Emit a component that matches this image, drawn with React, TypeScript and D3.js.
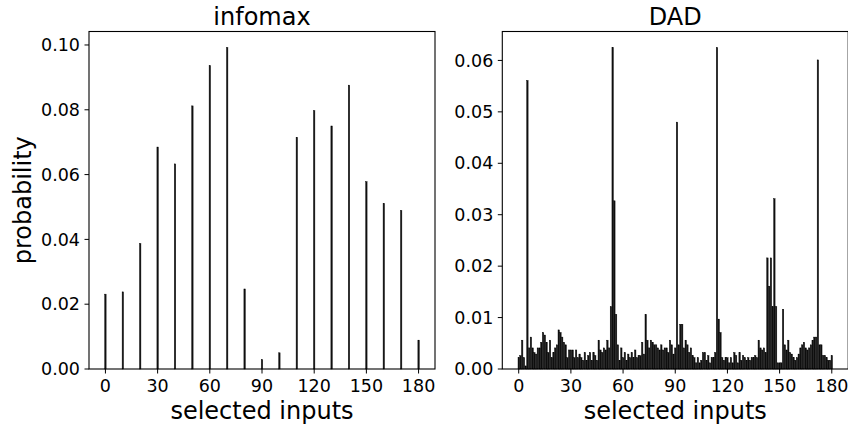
import React from 'react';
import * as d3 from 'd3';

// infomax: inputs picked every 10 steps
const infomaxInputs = [0, 10, 20, 30, 40, 50, 60, 70, 80, 90, 100, 110, 120, 130, 140, 150, 160, 170, 180];
const infomaxProb = [
  0.0231, 0.0238, 0.0387, 0.0685, 0.0633, 0.0812, 0.0936, 0.0992, 0.0247, 0.0029,
  0.0050, 0.0715, 0.0797, 0.0750, 0.0876, 0.0578, 0.0511, 0.0489, 0.0089,
];

// DAD: one value per input 0..180
const dadProb = [
  0.0022, 0.0026, 0.0056, 0.0022, 0.0006, 0.0561, 0.0041, 0.0062, 0.0041, 0.0032,
  0.0029, 0.0041, 0.0041, 0.0052, 0.0071, 0.0066, 0.0052, 0.0032, 0.0056, 0.0022,
  0.0032, 0.0041, 0.0047, 0.0076, 0.0071, 0.0062, 0.0052, 0.0047, 0.0022, 0.0037,
  0.0037, 0.0037, 0.0022, 0.0037, 0.0022, 0.0029, 0.0022, 0.0017, 0.0032, 0.0017,
  0.0026, 0.0032, 0.0017, 0.0032, 0.0026, 0.0017, 0.0056, 0.0037, 0.0032, 0.0041,
  0.0037, 0.0056, 0.0041, 0.0121, 0.0625, 0.0327, 0.0106, 0.0047, 0.0017, 0.0041,
  0.0022, 0.0032, 0.0017, 0.0029, 0.0022, 0.0032, 0.0022, 0.0037, 0.0022, 0.0026,
  0.0026, 0.0052, 0.0029, 0.0106, 0.0056, 0.0041, 0.0056, 0.0052, 0.0047, 0.0047,
  0.0041, 0.0037, 0.0047, 0.0037, 0.0041, 0.0041, 0.0032, 0.0056, 0.0047, 0.0029,
  0.0041, 0.0480, 0.0047, 0.0087, 0.0087, 0.0041, 0.0056, 0.0047, 0.0032, 0.0041,
  0.0026, 0.0022, 0.0012, 0.0022, 0.0012, 0.0017, 0.0032, 0.0032, 0.0017, 0.0026,
  0.0012, 0.0022, 0.0022, 0.0032, 0.0625, 0.0097, 0.0071, 0.0022, 0.0017, 0.0022,
  0.0022, 0.0012, 0.0022, 0.0012, 0.0032, 0.0026, 0.0012, 0.0032, 0.0017, 0.0026,
  0.0022, 0.0017, 0.0022, 0.0017, 0.0022, 0.0022, 0.0026, 0.0022, 0.0056, 0.0041,
  0.0037, 0.0041, 0.0032, 0.0216, 0.0161, 0.0216, 0.0121, 0.0331, 0.0121, 0.0012,
  0.0012, 0.0012, 0.0116, 0.0047, 0.0037, 0.0056, 0.0032, 0.0029, 0.0022, 0.0017,
  0.0022, 0.0029, 0.0041, 0.0047, 0.0052, 0.0041, 0.0037, 0.0041, 0.0047, 0.0056,
  0.0062, 0.0062, 0.0601, 0.0047, 0.0047, 0.0026, 0.0026, 0.0022, 0.0017, 0.0017,
  0.0026,
];
const dadInputs = dadProb.map((_, i) => i);

const xTicks = [0, 30, 60, 90, 120, 150, 180];
const infomaxYTicks = [0, 0.02, 0.04, 0.06, 0.08, 0.1];
const dadYTicks = [0, 0.01, 0.02, 0.03, 0.04, 0.05, 0.06];

const FONT = 'DejaVu Sans, sans-serif';
const BAR_W = 0.8;

type PanelProps = {
  title: string;
  xs: number[];
  ys: number[];
  yTicks: number[];
  left: number;
  right: number;
  ylabel?: string;
};

const Panel = ({ title, xs, ys, yTicks, left, right, ylabel }: PanelProps) => {
  const top = 31.5;
  const bottom = 369;
  // matplotlib style 5% margins around the bar extent
  const lo = d3.min(xs)! - BAR_W / 2;
  const hi = d3.max(xs)! + BAR_W / 2;
  const pad = (hi - lo) * 0.05;
  const x = d3.scaleLinear().domain([lo - pad, hi + pad]).range([left, right]);
  const y = d3.scaleLinear().domain([0, d3.max(ys)! * 1.05]).range([bottom, top]);
  const fmt = d3.format('.2f');
  const cx = (left + right) / 2;

  return (
    <g fontFamily={FONT} fill="black">
      {xs.map((d, i) => (
        <rect
          key={i}
          x={x(d - BAR_W / 2)}
          y={y(ys[i])}
          width={x(BAR_W) - x(0)}
          height={bottom - y(ys[i])}
          fill="#111"
          stroke="#000"
          strokeWidth={0.45}
        />
      ))}
      <rect x={left} y={top} width={right - left} height={bottom - top} fill="none" stroke="black" strokeWidth={1.1} />
      {xTicks.map((t) => (
        <g key={t} transform={`translate(${x(t)},${bottom})`}>
          <line y2={4.5} stroke="black" strokeWidth={1} />
          <text y={22.7} textAnchor="middle" fontSize={17.5}>{t}</text>
        </g>
      ))}
      {yTicks.map((t) => (
        <g key={t} transform={`translate(${left},${y(t)})`}>
          <line x2={-4.5} stroke="black" strokeWidth={1} />
          <text x={-9} dy="0.35em" textAnchor="end" fontSize={17.5}>{fmt(t)}</text>
        </g>
      ))}
      <text x={cx} y={25} textAnchor="middle" fontSize={24}>{title}</text>
      <text x={cx} y={418.5} textAnchor="middle" fontSize={24}>selected inputs</text>
      {ylabel && (
        <text transform={`translate(31,${(top + bottom) / 2}) rotate(-90)`} textAnchor="middle" fontSize={24}>
          {ylabel}
        </text>
      )}
    </g>
  );
};

export default function App() {
  return (
    <svg width={848} height={424} style={{ position: 'absolute', left: 0, top: 0, background: 'white' }}>
      <Panel title="infomax" xs={infomaxInputs} ys={infomaxProb} yTicks={infomaxYTicks} left={89} right={435} ylabel="probability" />
      <Panel title="DAD" xs={dadInputs} ys={dadProb} yTicks={dadYTicks} left={502.3} right={848.2} />
    </svg>
  );
}
